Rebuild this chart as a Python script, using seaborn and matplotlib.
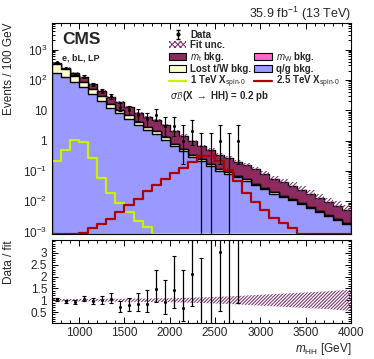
import math
import numpy as np
import pandas as pd
import seaborn as sns
import matplotlib
matplotlib.use("Agg")
import matplotlib.pyplot as plt
from matplotlib.patches import Patch
from matplotlib.lines import Line2D
from matplotlib.ticker import MultipleLocator, FixedLocator, FuncFormatter, LogLocator, NullFormatter

# ---------------- data ----------------
bin_edges = np.arange(700, 4001, 100)
bin_centers = bin_edges[:-1] + 50

qg_bkg = [170.6, 120.5, 83.5, 58.8, 33.9, 20.5, 11.95, 7.81, 5.25, 3.32, 2.24, 1.69, 1.06, 0.66,
          0.46, 0.29, 0.21, 0.15, 0.102, 0.082, 0.061, 0.048, 0.035, 0.025, 0.018, 0.014, 0.0107,
          0.008, 0.0061, 0.0045, 0.0033, 0.0025, 0.0018]
lost_bkg = [170.6, 100.4, 55.7, 28.8, 15.1, 8.0, 4.35, 2.60, 1.54, 0.83, 0.53, 0.376, 0.224, 0.124,
            0.080, 0.048, 0.030, 0.020, 0.013, 0.0091, 0.007, 0.0047, 0.0034, 0.0024, 0.0017, 0.0011,
            0.0008, 0.0006, 0.00036, 0.00026, 0.00019, 0.00014, 0.0001]
mw_bkg = [0.5, 0.35, 0.25, 0.15, 0.1, 0.06, 0.04, 0.025, 0.015, 0.01, 0.006, 0.004, 0.003, 0.002,
          0.0015, 0.001, 0.0007, 0.0005, 0.0003, 0.0002, 0.00015, 0.0001, 0.00008, 0.00006, 0.00004,
          0.00003, 0.00002, 0.00002, 0.00001, 0.00001, 0.00001, 0.00001, 0.00001]
mt_bkg = [21.8, 30.1, 34.8, 32.4, 23.0, 16.0, 10.9, 8.18, 6.02, 4.15, 3.13, 2.63, 1.92, 1.28,
          0.91, 0.61, 0.42, 0.32, 0.215, 0.169, 0.132, 0.102, 0.074, 0.052, 0.036, 0.028, 0.0205,
          0.0154, 0.0115, 0.0084, 0.006, 0.0045, 0.0032]
fit_unc = [0.05, 0.05, 0.05, 0.05, 0.05, 0.06, 0.06, 0.06, 0.07, 0.07, 0.07, 0.08, 0.08, 0.09,
           0.10, 0.11, 0.12, 0.13, 0.15, 0.16, 0.18, 0.20, 0.22, 0.24, 0.26, 0.28, 0.30, 0.32,
           0.34, 0.36, 0.38, 0.41, 0.44]
sig_1tev = [0.22, 0.5, 1.07, 0.91, 0.26, 0.058, 0.019, 0.0085, 0.0045, 0.0023, 0.0014, 0, 0, 0,
            0, 0, 0, 0, 0, 0, 0, 0, 0, 0, 0, 0, 0, 0, 0, 0, 0, 0, 0]
sig_2p5tev = [0, 0, 0, 0.0009, 0.0013, 0.0018, 0.0027, 0.0045, 0.0074, 0.012, 0.021, 0.034, 0.053,
              0.087, 0.127, 0.19, 0.30, 0.30, 0.22, 0.11, 0.046, 0.019, 0.0092, 0.0051, 0.0029,
              0.0019, 0.0013, 0, 0, 0, 0, 0, 0]
data_counts = [378, 238, 160, 128, 70, 44, 29, 13, 10, 7, 5, 7, 3, 3, 1, 2, 0, 0, 1, 0, 1]

# ---------------- helpers ----------------
def pois_cdf(n, lam):
    if lam <= 0:
        return 1.0
    logs = [-lam + k * math.log(lam) - math.lgamma(k + 1) for k in range(n + 1)]
    m = max(logs)
    return math.exp(m) * sum(math.exp(l - m) for l in logs)

def garwood(n, a=0.158655):
    def bisect(f, lo, hi):
        for _ in range(80):
            mid = 0.5 * (lo + hi)
            if f(mid) > 0:
                lo = mid
            else:
                hi = mid
        return 0.5 * (lo + hi)
    hi_b = n + 10 * math.sqrt(n + 1) + 10
    up = bisect(lambda l: pois_cdf(n, l) - a, 0.0, hi_b)
    if n == 0:
        lo = 0.0
    else:
        lo = bisect(lambda l: a - (1 - pois_cdf(n - 1, l)), 0.0, hi_b)
    return lo, up

qg = np.array(qg_bkg)
lost = np.array(lost_bkg)
mw = np.array(mw_bkg)
mt = np.array(mt_bkg)
unc = np.array(fit_unc)
c_qg = qg
c_lost = c_qg + lost
c_mw = c_lost + mw
total = c_mw + mt

nd = len(data_counts)
dat = np.array(data_counts, dtype=float)
dx = bin_centers[:nd].astype(float)
ints = [garwood(int(n)) for n in data_counts]
err_lo = np.array([n - lo for n, (lo, up) in zip(data_counts, ints)])
err_hi = np.array([up - n for n, (lo, up) in zip(data_counts, ints)])

# ---------------- style ----------------
sns.set_theme(style="ticks")
plt.rcParams["font.family"] = ["Liberation Sans", "DejaVu Sans"]
plt.rcParams["mathtext.fontset"] = "custom"
plt.rcParams["mathtext.rm"] = "Liberation Sans"
plt.rcParams["mathtext.it"] = "Liberation Sans:italic"
plt.rcParams["mathtext.bf"] = "Liberation Sans:bold"
plt.rcParams["hatch.linewidth"] = 0.75
plt.rcParams["axes.linewidth"] = 0.8

C_QG = "#9999ff"
C_LOST = "#ffffcc"
C_MW = "#ff66cc"
C_MT = "#8f2a5e"
C_S1 = "#ccf000"
C_S2 = "#b00000"
C_HATCH = "#7e3470"

YMIN, YMAX = 8.3e-4, 7500

fig = plt.figure(figsize=(3.74, 3.59), dpi=100)
ax1 = fig.add_axes([0.139, 0.348, 0.7995, 0.588])
ax2 = fig.add_axes([0.139, 0.100, 0.7995, 0.2315])

edge_list = [float(e) for e in bin_edges]

def hist(vals, **kw):
    df = pd.DataFrame({"m": bin_centers.astype(float), "w": np.asarray(vals, dtype=float)})
    sns.histplot(data=df, x="m", weights="w", bins=edge_list, element="step", ax=ax1, **kw)

# stacked backgrounds (draw cumulative from top down)
for vals, col in [(total, C_MT), (c_mw, C_MW), (c_lost, C_LOST), (c_qg, C_QG)]:
    hist(vals, fill=True, facecolor=col, edgecolor="black", linewidth=1.0, alpha=1)

ax1.set_yscale("log")

# fit uncertainty band
ax1.stairs(total * (1 + unc), bin_edges, baseline=total * (1 - unc), fill=True,
           facecolor="none", edgecolor=C_HATCH, hatch="////////", linewidth=0)

# signals
hist(np.maximum(sig_1tev, YMIN), fill=False, color=C_S1, linewidth=1.6)
hist(np.maximum(sig_2p5tev, YMIN), fill=False, color=C_S2, linewidth=1.6)

# data
ax1.errorbar(dx, dat, yerr=[err_lo, err_hi], fmt="none", ecolor="black", elinewidth=0.9,
             capsize=1.3, capthick=0.8)
pos = dat > 0
sns.scatterplot(x=dx[pos], y=dat[pos], color="black", s=5, linewidth=0, ax=ax1, zorder=5)

ax1.set_xlim(700, 4000)
ax1.set_ylim(YMIN, YMAX)

def logfmt(v, p):
    e = int(round(np.log10(v)))
    if e == 0:
        return "1"
    if e == 1:
        return "10"
    return r"$10^{%d}$" % e
ax1.yaxis.set_major_locator(FixedLocator([1e-3, 1e-2, 1e-1, 1, 10, 100, 1000]))
ax1.yaxis.set_major_formatter(FuncFormatter(logfmt))
ax1.yaxis.set_minor_locator(LogLocator(base=10, subs=np.arange(2, 10), numticks=20))
ax1.yaxis.set_minor_formatter(NullFormatter())
ax1.set_ylabel("Events / 100 GeV", loc="top", fontsize=8.5)
ax1.yaxis.set_label_coords(-0.125, 1.0)
ax1.set_xlabel("")
ax1.set_title(r"35.9 fb$^{\mathregular{-1}}$ (13 TeV)", loc="right", fontsize=9, pad=3)

ax1.text(0.033, 0.955, "CMS", transform=ax1.transAxes, fontsize=12.5, fontweight="bold",
         va="top", ha="left")
ax1.text(0.033, 0.855, "e, bL, LP", transform=ax1.transAxes, fontsize=6.5, fontweight="bold",
         va="top", ha="left")

# legend
blank = Patch(facecolor="none", edgecolor="none")
h_data = ax1.errorbar([np.nan], [np.nan], yerr=[[np.nan], [np.nan]], fmt="o", ms=2, color="black",
                      capsize=1.3, elinewidth=0.9)
h_unc = Patch(facecolor="white", edgecolor=C_HATCH, hatch="xxxxxx", linewidth=0)
h_mt = Patch(facecolor=C_MT, edgecolor="black", linewidth=0.8)
h_lost = Patch(facecolor=C_LOST, edgecolor="black", linewidth=0.8)
h_mw = Patch(facecolor=C_MW, edgecolor="black", linewidth=0.8)
h_qg = Patch(facecolor=C_QG, edgecolor="black", linewidth=0.8)
h_s1 = Line2D([], [], color=C_S1, linewidth=1.6)
h_s2 = Line2D([], [], color=C_S2, linewidth=1.6)
handles = [h_data, h_unc, h_mt, h_lost, h_s1, blank, blank, h_mw, h_qg, h_s2]
labels = ["Data", "Fit unc.", r"$m_{\mathrm{t}}$ bkg.", "Lost t/W bkg.",
          r"1 TeV X$_{\mathrm{spin\text{-}0}}$", "", "", r"$m_{\mathrm{W}}$ bkg.", "q/g bkg.",
          r"2.5 TeV X$_{\mathrm{spin\text{-}0}}$"]
leg = ax1.legend(handles, labels, ncol=2, loc="upper left", bbox_to_anchor=(0.375, 0.99),
                 frameon=False, prop={"weight": "bold", "size": 7},
                 handlelength=1.8, handleheight=0.75, handletextpad=0.4, columnspacing=0.3,
                 labelspacing=0.0, borderpad=0.0)
ax1.text(0.395, 0.655, r"$\sigma\mathcal{B}$(X $\rightarrow$ HH) = 0.2 pb", transform=ax1.transAxes,
         fontsize=7, fontweight="bold", va="center", ha="left")

# ratio panel
xb = np.concatenate([[bin_edges[0]], bin_centers, [bin_edges[-1]]])
ub = np.concatenate([[unc[0]], unc, [unc[-1]]])
ax2.fill_between(xb, 1 - ub, 1 + ub, facecolor="none", edgecolor=C_HATCH, hatch="//////////",
                 linewidth=0)
tot_d = total[:nd]
ratio = dat / tot_d
ax2.errorbar(dx, ratio, yerr=[err_lo / tot_d, err_hi / tot_d], fmt="none", ecolor="black",
             elinewidth=0.9, capsize=1.3, capthick=0.8)
sns.scatterplot(x=dx[pos], y=ratio[pos], color="black", s=5, linewidth=0, ax=ax2, zorder=5)
ax2.set_xlim(700, 4000)
ax2.set_ylim(0.03, 3.55)
ax2.yaxis.set_major_locator(FixedLocator([0.5, 1, 1.5, 2, 2.5, 3]))
ax2.yaxis.set_minor_locator(MultipleLocator(0.1))
ax2.yaxis.set_major_formatter(FuncFormatter(lambda v, p: "%g" % v))
ax2.set_ylabel("Data / fit", loc="top", fontsize=8.5)
ax2.yaxis.set_label_coords(-0.125, 1.0)
ax2.set_xlabel(r"$m_{\mathrm{HH}}$ [GeV]", loc="right", fontsize=8.5, labelpad=1)

for ax in (ax1, ax2):
    ax.xaxis.set_major_locator(FixedLocator([1000, 1500, 2000, 2500, 3000, 3500, 4000]))
    ax.xaxis.set_minor_locator(MultipleLocator(100))
    ax.tick_params(which="both", direction="in", top=True, right=True, labelsize=8.5,
                   color="black", width=0.7)
    ax.tick_params(which="major", length=4)
    ax.tick_params(which="minor", length=2)
    for s in ax.spines.values():
        s.set_color("black")
        s.set_visible(True)
ax1.tick_params(axis="y", which="minor", length=2.5)
ax1.tick_params(axis="x", labelbottom=False)
ax2.tick_params(axis="x", pad=3)

fig.savefig("out.png", dpi=100)
